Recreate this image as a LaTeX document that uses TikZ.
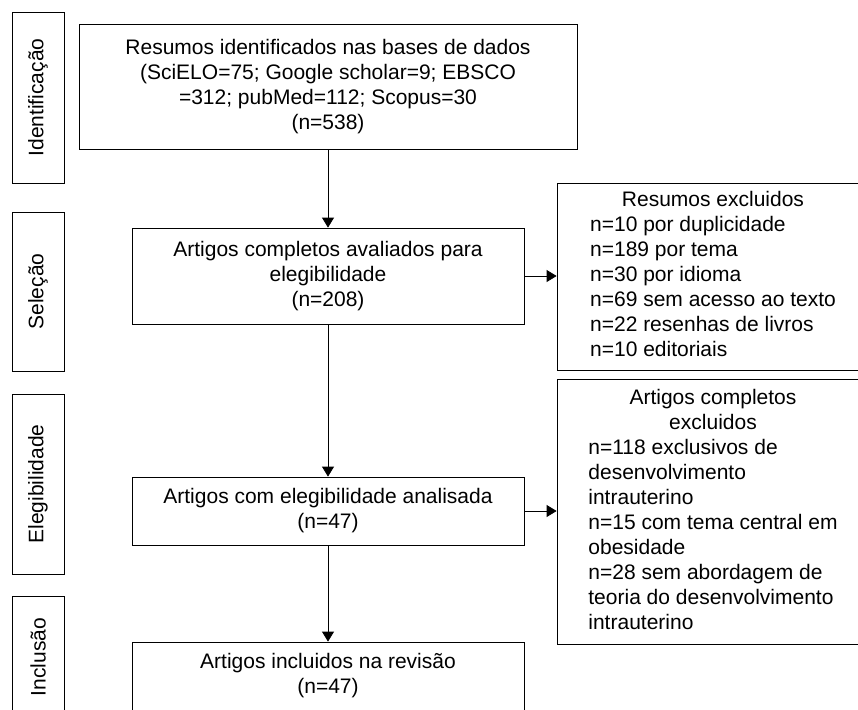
\documentclass[tikz,border=0pt]{standalone}
\usepackage{fontspec}
\setmainfont{Liberation Sans}
\usetikzlibrary{arrows.meta}
\begin{document}
\begin{tikzpicture}[x=1pt,y=-1pt,
  txt/.style={font=\fontsize{21}{25}\selectfont},
  box/.style={draw, line width=0.8pt, inner sep=0pt, align=center, txt},
  phase/.style={draw, line width=0.8pt, inner sep=0pt, minimum width=52pt, txt},
  conn/.style={line width=0.8pt, -{Triangle[width=12pt,length=10pt]}}]
\useasboundingbox (0,0) rectangle (858,709);
\clip (0,0) rectangle (858,709);

% phase boxes
\node[phase, minimum height=171pt] (p1) at (38,97.5) {\rotatebox{90}{Identificação}};
\node[phase, minimum height=159pt] (p2) at (38,291.5) {\rotatebox{90}{Seleção}};
\node[phase, minimum height=180pt] (p3) at (38,484) {\rotatebox{90}{Elegibilidade}};
\node[phase, minimum height=122pt] (p4) at (38,657) {\rotatebox{90}{Inclusão}};

% main boxes
\node[box, minimum width=498pt, minimum height=125pt] (b1) at (328,86.5)
  {Resumos identificados nas bases de dados\\(SciELO=75; Google scholar=9; EBSCO\\=312; pubMed=112; Scopus=30\\(n=538)};
\node[box, minimum width=392pt, minimum height=96pt] (b2) at (328,276)
  {Artigos completos avaliados para\\elegibilidade\\(n=208)};
\node[box, minimum width=392pt, minimum height=68pt] (b3) at (328,511)
  {Artigos com elegibilidade analisada\\(n=47)};
\node[box, minimum width=392pt, minimum height=68pt] (b4) at (328,676)
  {Artigos incluidos na revisão\\(n=47)};

% exclusion boxes
\node[box, minimum width=312pt, minimum height=187pt] (r1) at (713,276.5)
  {\begin{tabular}{@{}l@{}}
   \multicolumn{1}{@{}c@{}}{Resumos excluidos}\\
   n=10 por duplicidade\\
   n=189 por tema\\
   n=30 por idioma\\
   n=69 sem acesso ao texto\\
   n=22 resenhas de livros\\
   n=10 editoriais
   \end{tabular}};
\node[box, minimum width=312pt, minimum height=265pt] (r2) at (713,511.5)
  {\begin{tabular}{@{}l@{}}
   \multicolumn{1}{@{}c@{}}{Artigos completos}\\
   \multicolumn{1}{@{}c@{}}{excluidos}\\
   n=118 exclusivos de\\
   desenvolvimento\\
   intrauterino\\
   n=15 com tema central em\\
   obesidade\\
   n=28 sem abordagem de\\
   teoria do desenvolvimento\\
   intrauterino
   \end{tabular}};

% connectors
\draw[conn] (b1) -- (b2);
\draw[conn] (b2) -- (b3);
\draw[conn] (b3) -- (b4);
\draw[conn] (b2.east) -- (b2.east -| r1.west);
\draw[conn] (b3.east) -- (b3.east -| r2.west);
\end{tikzpicture}
\end{document}
